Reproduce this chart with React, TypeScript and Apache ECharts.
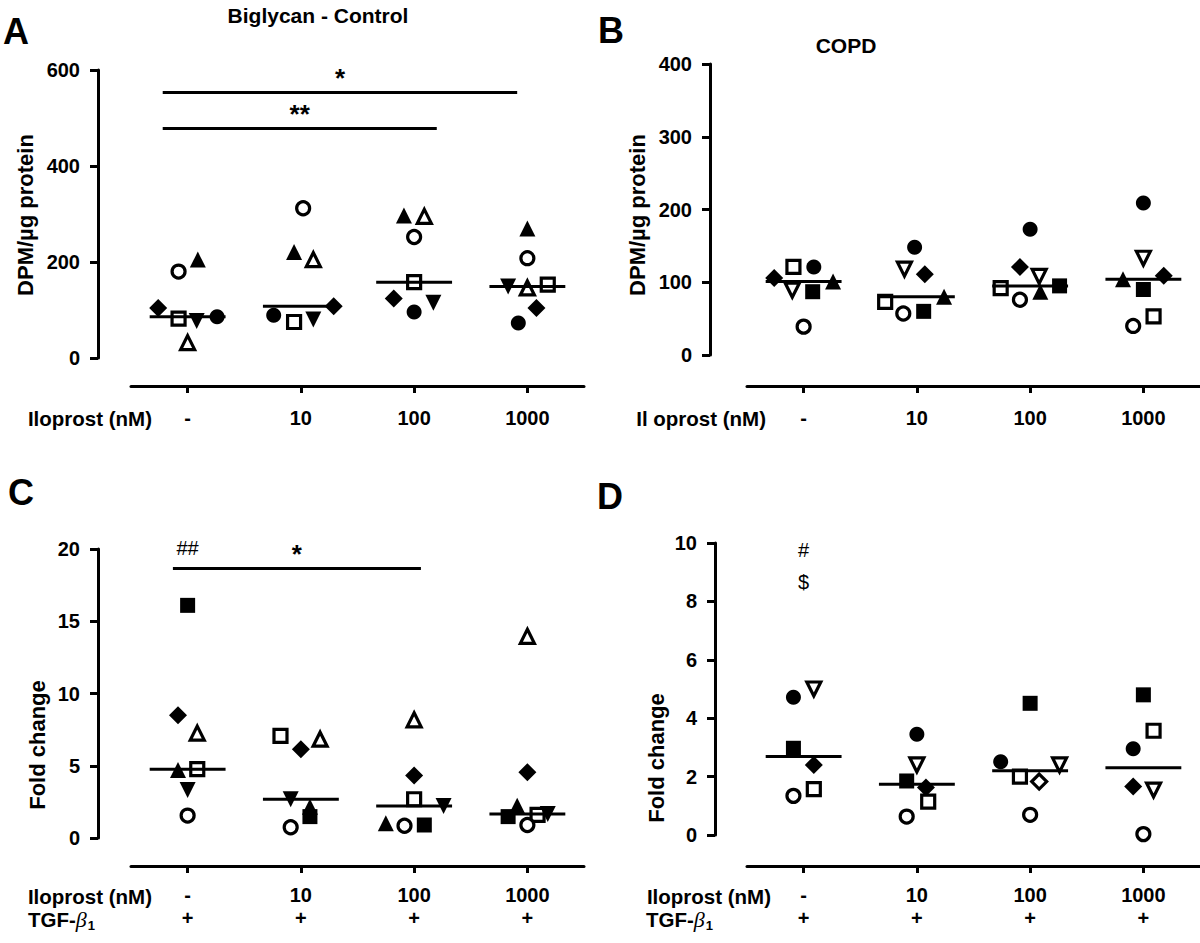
import React, { useEffect, useRef } from 'react';
import * as echarts from 'echarts';

const FONT = '"Liberation Sans", Arial, Helvetica, sans-serif';

const categories = ['-', '10', '100', '1000'];

// ---------- Panel A : Biglycan - Control (DPM/µg protein) ----------
const aSubjects = ['circleOpen', 'triangle', 'diamond', 'squareOpen', 'triangleDown', 'circle', 'triangleOpen'];
const aValues = [
  [180, 312, 252, 208],
  [205, 221, 297, 270],
  [104, 108, 124, 104],
  [82, 75, 158, 153],
  [77, 80, 115, 149],
  [86, 89, 96, 73],
  [32, 205, 295, 146],
];
const aJitter = [
  [-0.08, 0.02, 0, 0],
  [0.09, -0.06, -0.09, 0],
  [-0.26, 0.29, -0.18, 0.08],
  [-0.08, -0.06, 0, 0.18],
  [0.08, 0.11, 0.17, -0.17],
  [0.26, -0.24, 0, -0.08],
  [0, 0.11, 0.09, 0],
];
const aSig = [
  { from: -0.22, to: 2.91, y: 553, text: '*' },
  { from: -0.22, to: 2.2, y: 478, text: '**' },
];

// ---------- Panel B : COPD (DPM/µg protein) ----------
const bSubjects = ['diamond', 'squareOpen', 'circle', 'triangle', 'triangleDownOpen', 'square', 'circleOpen'];
const bValues = [
  [106, 111, 121, 109],
  [121, 73, 92, 53],
  [121, 148, 173, 209],
  [101, 80, 87, 104],
  [89, 118, 108, 133],
  [87, 60, 95, 90],
  [39, 57, 76, 40],
];
const bJitter = [
  [-0.26, 0.07, -0.09, 0.18],
  [-0.09, -0.28, -0.26, 0.09],
  [0.09, -0.02, 0, 0],
  [0.26, 0.24, 0.09, -0.18],
  [-0.1, -0.11, 0.08, 0],
  [0.08, 0.06, 0.26, 0],
  [0, -0.12, -0.09, -0.09],
];

// ---------- Panel C : Control fold change ----------
const cSubjects = ['square', 'diamond', 'triangleOpen', 'triangle', 'squareOpen', 'triangleDown', 'circleOpen'];
const cValues = [
  [16.1, 1.48, 0.9, 1.48],
  [8.5, 6.15, 4.32, 4.55],
  [7.26, 6.84, 8.18, 13.96],
  [4.7, 2.17, 1.02, 2.24],
  [4.76, 7.07, 2.68, 1.6],
  [3.33, 2.68, 2.22, 1.66],
  [1.55, 0.74, 0.85, 0.9],
];
const cJitter = [
  [0, 0.08, 0.09, -0.17],
  [-0.085, 0, 0, 0],
  [0.085, 0.17, 0, 0],
  [-0.085, 0.08, -0.25, -0.09],
  [0.085, -0.18, 0, 0.09],
  [0, -0.09, 0.26, 0.18],
  [0, -0.09, -0.085, 0],
];
const cSig = [{ from: -0.13, to: 2.06, y: 18.65, text: '*' }];
const cNotes = [{ x: 0, y: 20.1, text: '##' }];

// ---------- Panel D : COPD fold change ----------
const dSubjects = ['circle', 'triangleDownOpen', 'square', 'diamond', 'diamondOpen', 'squareOpen', 'circleOpen'];
const dValues = [
  [4.72, 3.45, 2.51, 2.95],
  [5.0, 2.4, 2.4, 1.54],
  [2.97, 1.85, 4.51, 4.8],
  [2.4, 1.63, null, 1.66],
  [null, null, 1.83, null],
  [1.57, 1.14, 2.0, 3.57],
  [1.34, 0.63, 0.69, 0.03],
];
const dJitter = [
  [-0.09, 0, -0.26, -0.09],
  [0.09, 0, 0.26, 0.09],
  [-0.09, -0.09, 0, 0],
  [0.09, 0.08, 0, -0.09],
  [0, 0, 0.08, 0],
  [0.09, 0.1, -0.09, 0.09],
  [-0.09, -0.09, 0, 0],
];
const dNotes = [
  { x: 0, y: 9.77, text: '#' },
  { x: 0, y: 8.67, text: '$' },
];

// ---------- styles ----------
const SYMBOLS: Record<string, any> = {
  circle: { symbol: 'circle', size: 15, open: false, rotate: 0 },
  circleOpen: { symbol: 'circle', size: 13, open: true, rotate: 0 },
  square: { symbol: 'rect', size: 15, open: false, rotate: 0 },
  squareOpen: { symbol: 'rect', size: 13, open: true, rotate: 0 },
  triangle: { symbol: 'triangle', size: 16, open: false, rotate: 0 },
  triangleOpen: { symbol: 'triangle', size: 14, open: true, rotate: 0 },
  triangleDown: { symbol: 'triangle', size: 16, open: false, rotate: 180 },
  triangleDownOpen: { symbol: 'triangle', size: 14, open: true, rotate: 180 },
  diamond: { symbol: 'diamond', size: 18, open: false, rotate: 0 },
  diamondOpen: { symbol: 'diamond', size: 15, open: true, rotate: 0 },
};

const MEAN_HALF = 0.335;
const TICK_FS = 20;
const NAME_FS = 22;
const ROW_FS = 20.5;

function median(arr: (number | null)[]) {
  const v = arr.filter((x) => x != null).map((x) => x as number).sort((a, b) => a - b);
  const n = v.length;
  return n % 2 ? v[(n - 1) / 2] : (v[n / 2 - 1] + v[n / 2]) / 2;
}

function panelSeries(p: number, subjects: string[], values: (number | null)[][], jitter: number[][]) {
  const out: any[] = [];
  subjects.forEach((s, k) => {
    const st = SYMBOLS[s];
    const data: any[] = [];
    values[k].forEach((v, i) => {
      if (v != null) data.push([i + jitter[k][i], v]);
    });
    out.push({
      type: 'scatter',
      xAxisIndex: p,
      yAxisIndex: p,
      symbol: st.symbol,
      symbolSize: st.size,
      symbolRotate: st.rotate,
      z: 3,
      itemStyle: st.open
        ? { color: '#fff', borderColor: '#000', borderWidth: 3.2, opacity: 1 }
        : { color: '#000', borderWidth: 0, opacity: 1 },
      emphasis: { disabled: true },
      data,
    });
  });
  categories.forEach((_, i) => {
    const m = median(values.map((row) => row[i]));
    out.push({
      type: 'line',
      xAxisIndex: p,
      yAxisIndex: p,
      symbol: 'none',
      z: 4,
      lineStyle: { color: '#000', width: 3 },
      data: [
        [i - MEAN_HALF, m],
        [i + MEAN_HALF, m],
      ],
    });
  });
  return out;
}

function textMarker(p: number, x: number, y: number, text: string, bold: boolean, position: string, size: number) {
  return {
    type: 'scatter',
    xAxisIndex: p,
    yAxisIndex: p,
    symbolSize: 2,
    z: 5,
    clip: false,
    itemStyle: { color: 'rgba(255,255,255,0)', borderWidth: 0 },
    emphasis: { disabled: true },
    label: {
      show: true,
      position,
      distance: 1,
      formatter: text,
      color: '#000',
      opacity: 1,
      textBorderWidth: 0,
      fontSize: size,
      fontWeight: bold ? 'bold' : 'normal',
      fontFamily: FONT,
    },
    data: [[x, y]],
  };
}

function sigSeries(p: number, sig: { from: number; to: number; y: number; text: string }[]) {
  const out: any[] = [];
  sig.forEach((s) => {
    out.push({
      type: 'line',
      xAxisIndex: p,
      yAxisIndex: p,
      symbol: 'none',
      lineStyle: { color: '#000', width: 3 },
      data: [
        [s.from, s.y],
        [s.to, s.y],
      ],
    });
    out.push(textMarker(p, (s.from + s.to) / 2, s.y, s.text, true, 'top', 26));
  });
  return out;
}

function noteSeries(p: number, notes: { x: number; y: number; text: string }[]) {
  return notes.map((n) => textMarker(p, n.x, n.y, n.text, false, 'inside', 20));
}

const grids = [
  { left: 131, top: 70, width: 453, height: 288 },
  { left: 747, top: 64, width: 453, height: 291 },
  { left: 131, top: 549, width: 453, height: 289 },
  { left: 747, top: 543, width: 453, height: 292 },
];
const yAxes = [
  { max: 600, interval: 200, offset: 33 },
  { max: 400, interval: 100, offset: 37 },
  { max: 20, interval: 5, offset: 33 },
  { max: 10, interval: 2, offset: 32 },
];
const xOffsets = [28, 31, 28, 31];

export default function App() {
  const ref = useRef<HTMLDivElement>(null);
  useEffect(() => {
    if (!ref.current) return;
    const chart = echarts.init(ref.current, undefined, { renderer: 'svg' });

    const labelStyle = { color: '#000', fontSize: TICK_FS, fontWeight: 'bold', fontFamily: FONT };

    const xAxis = grids.map((_, p) => ({
      gridIndex: p,
      type: 'value',
      min: -0.5,
      max: 3.5,
      offset: xOffsets[p],
      axisLine: { show: true, onZero: false, lineStyle: { color: '#000', width: 3 } },
      axisTick: { show: true, length: 7, customValues: [0, 1, 2, 3], lineStyle: { color: '#000', width: 3 } },
      splitLine: { show: false },
      axisLabel:
        p < 2
          ? {
              ...labelStyle,
              margin: 22,
              customValues: [0, 1, 2, 3],
              formatter: (v: number) => categories[Math.round(v)],
            }
          : {
              margin: 17,
              customValues: [0, 1, 2, 3],
              formatter: (v: number) => `{a|${categories[Math.round(v)]}}\n{b|+}`,
              rich: {
                a: { ...labelStyle, lineHeight: 23 },
                b: { ...labelStyle, lineHeight: 23 },
              },
            },
    }));

    const yAxis = yAxes.map((y, p) => ({
      gridIndex: p,
      type: 'value',
      min: 0,
      max: y.max,
      interval: y.interval,
      offset: y.offset,
      axisLine: { show: true, onZero: false, lineStyle: { color: '#000', width: 3 } },
      axisTick: { show: true, length: 8, lineStyle: { color: '#000', width: 3 } },
      splitLine: { show: false },
      axisLabel: { ...labelStyle, margin: 18 },
    }));

    const series: any[] = [
      ...panelSeries(0, aSubjects, aValues, aJitter),
      ...sigSeries(0, aSig),
      ...panelSeries(1, bSubjects, bValues, bJitter),
      ...panelSeries(2, cSubjects, cValues, cJitter),
      ...sigSeries(2, cSig),
      ...noteSeries(2, cNotes),
      ...panelSeries(3, dSubjects, dValues, dJitter),
      ...noteSeries(3, dNotes),
    ];

    const txt = (x: number, y: number, text: string, size: number, extra: any = {}) => ({
      type: 'text',
      x,
      y,
      ...(extra.rotation ? { rotation: extra.rotation } : {}),
      style: {
        text,
        fill: '#000',
        fontSize: size,
        fontWeight: 'bold',
        fontFamily: FONT,
        align: extra.align || 'left',
        verticalAlign: 'middle',
      },
    });

    const tgf = (x: number, y: number) => ({
      type: 'text',
      x,
      y,
      style: {
        text: '{n|TGF-}{g|β}{s|1}',
        fill: '#000',
        align: 'left',
        verticalAlign: 'middle',
        rich: {
          n: { fontSize: ROW_FS, fontWeight: 'bold', fontFamily: FONT, fill: '#000' },
          g: { fontSize: 22, fontStyle: 'italic', fontFamily: '"Liberation Serif", serif', fill: '#000' },
          s: { fontSize: 13, fontWeight: 'bold', fontFamily: FONT, fill: '#000', padding: [12, 0, 0, 1] },
        },
      },
    });

    const graphic = [
      txt(3, 31, 'A', 36),
      txt(598, 30, 'B', 36),
      txt(8, 492, 'C', 36),
      txt(597, 496, 'D', 36),
      txt(318, 15, 'Biglycan - Control', 21, { align: 'center' }),
      txt(846, 45, 'COPD', 21, { align: 'center' }),
      txt(25, 215, 'DPM/µg protein', NAME_FS, { align: 'center', rotation: Math.PI / 2 }),
      txt(637, 215, 'DPM/µg protein', NAME_FS, { align: 'center', rotation: Math.PI / 2 }),
      txt(37, 745, 'Fold change', NAME_FS, { align: 'center', rotation: Math.PI / 2 }),
      txt(656, 758, 'Fold change', NAME_FS, { align: 'center', rotation: Math.PI / 2 }),
      txt(152, 418, 'Iloprost (nM)', ROW_FS, { align: 'right' }),
      txt(766, 418, 'Il oprost (nM)', ROW_FS, { align: 'right' }),
      txt(152, 896, 'Iloprost (nM)', ROW_FS, { align: 'right' }),
      txt(771, 896, 'Iloprost (nM)', ROW_FS, { align: 'right' }),
      tgf(28, 919),
      tgf(646, 919),
    ];

    chart.setOption({
      animation: false,
      backgroundColor: '#fff',
      grid: grids.map((g) => ({ ...g, containLabel: false })),
      xAxis,
      yAxis,
      series,
      graphic,
    });
    return () => chart.dispose();
  }, []);
  return (
    <div
      ref={ref}
      style={{ position: 'absolute', left: 0, top: 0, width: 1200, height: 943, background: '#fff' }}
    />
  );
}
